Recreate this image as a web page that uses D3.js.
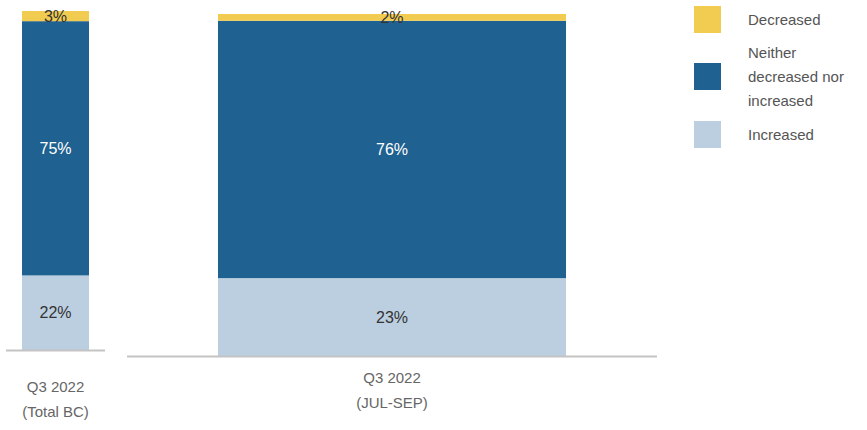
<!DOCTYPE html>
<html>
<head>
<meta charset="utf-8">
<script src="https://cdn.jsdelivr.net/npm/d3@7"></script>
<style>
  body { margin: 0; background: #fff; }
  text { font-family: "Liberation Sans", Arial, sans-serif; }
</style>
</head>
<body>
<svg id="chart" width="867" height="430"></svg>
<script>
const categories = [["Q3 2022", "(Total BC)"], ["Q3 2022", "(JUL-SEP)"]];
const increased = [22, 23];
const neither = [75, 76];
const decreased = [3, 2];
const seriesNames = ["Decreased", "Neither decreased nor increased", "Increased"];
const legendLines = [["Decreased"], ["Neither", "decreased nor", "increased"], ["Increased"]];
const colors = ["#f2cb51", "#1f6190", "#bccfe0"];

const svg = d3.select("#chart");

// each panel is its own little chart
const panels = [
  { x0: 6, x1: 105, top: 11, base: 350, barPad: 0.239, labelY: 392 },
  { x0: 127, x1: 657, top: 14, base: 356, barPad: 0.2615, labelY: 383 }
];

panels.forEach((p, i) => {
  const g = svg.append("g");
  const x = d3.scaleBand().domain([categories[i].join(" ")]).range([p.x0, p.x1])
    .paddingInner(0).paddingOuter(p.barPad);
  const total = increased[i] + neither[i] + decreased[i];
  const y = d3.scaleLinear().domain([0, total]).range([p.base, p.top]);

  // stack bottom to top: increased, neither, decreased
  const segs = [
    { v: increased[i], c: colors[2], txt: "#333" },
    { v: neither[i], c: colors[1], txt: "#fff" },
    { v: decreased[i], c: colors[0], txt: "#333" }
  ];
  let acc = 0;
  segs.forEach(s => { s.y0 = acc; acc += s.v; s.y1 = acc; });

  const key = categories[i].join(" ");
  g.selectAll("rect").data(segs).join("rect")
    .attr("x", x(key))
    .attr("width", x.bandwidth())
    .attr("y", d => y(d.y1))
    .attr("height", d => y(d.y0) - y(d.y1))
    .attr("fill", d => d.c);

  g.selectAll("text.val").data(segs).join("text")
    .attr("class", "val")
    .attr("x", x(key) + x.bandwidth() / 2)
    .attr("y", d => (y(d.y0) + y(d.y1)) / 2)
    .attr("dy", "0.36em")
    .attr("text-anchor", "middle")
    .attr("font-size", 16)
    .attr("fill", d => d.txt)
    .text(d => d.v + "%");

  g.append("line")
    .attr("x1", p.x0).attr("x2", p.x1)
    .attr("y1", p.base + 0.5).attr("y2", p.base + 0.5)
    .attr("stroke", "#c4c4c4").attr("stroke-width", 2);

  g.append("text")
    .attr("x", x(key) + x.bandwidth() / 2)
    .attr("y", p.labelY)
    .attr("text-anchor", "middle")
    .attr("font-size", 15)
    .attr("fill", "#666")
    .selectAll("tspan").data(categories[i]).join("tspan")
    .attr("x", x(key) + x.bandwidth() / 2)
    .attr("dy", (d, k) => k === 0 ? 0 : 25)
    .text(d => d);
});

// legend
const legY = [6, 63, 121];
const leg = svg.append("g");
seriesNames.forEach((name, i) => {
  leg.append("rect")
    .attr("x", 694).attr("y", legY[i])
    .attr("width", 27).attr("height", 27)
    .attr("fill", colors[i]);
  const lines = legendLines[i];
  const cy = legY[i] + 13.5;
  leg.append("text")
    .attr("font-size", 15)
    .attr("fill", "#555")
    .selectAll("tspan").data(lines).join("tspan")
    .attr("x", 748)
    .attr("y", (d, k) => cy + (k - (lines.length - 1) / 2) * 24)
    .attr("dy", "0.36em")
    .text(d => d);
});
</script>
</body>
</html>
